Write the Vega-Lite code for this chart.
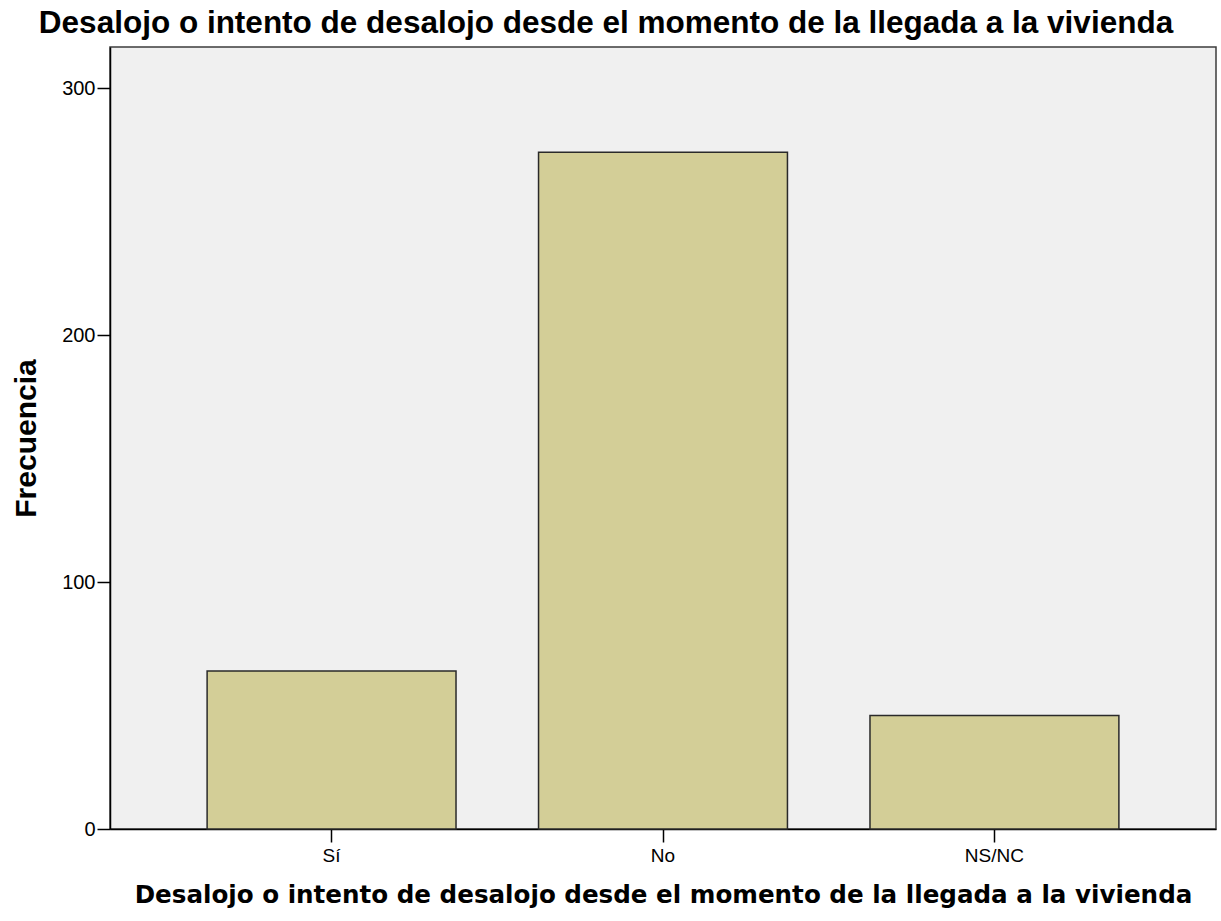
{
  "$schema": "https://vega.github.io/schema/vega-lite/v6.json",
  "width": 1106,
  "height": 782,
  "autosize": {"type": "none"},
  "padding": {"left": 110, "top": 47, "right": 5, "bottom": 92},
  "background": "white",
  "title": {
    "text": "Desalojo o intento de desalojo desde el momento de la llegada a la vivienda",
    "font": "Liberation Sans",
    "fontSize": 31.5,
    "fontWeight": "bold",
    "color": "black",
    "anchor": "middle",
    "dx": -57,
    "offset": 8
  },
  "data": {
    "values": [
      {"respuesta": "Sí", "frecuencia": 64},
      {"respuesta": "No", "frecuencia": 274},
      {"respuesta": "NS/NC", "frecuencia": 46}
    ]
  },
  "mark": {"type": "bar", "fill": "#d3ce97", "stroke": "#2a2a2a", "strokeWidth": 1.5},
  "encoding": {
    "x": {
      "field": "respuesta",
      "type": "nominal",
      "sort": ["Sí", "No", "NS/NC"],
      "scale": {"paddingInner": 0.249, "paddingOuter": 0.293},
      "axis": {
        "title": "Desalojo o intento de desalojo desde el momento de la llegada a la vivienda",
        "titleFont": "DejaVu Sans",
        "titleFontSize": 24.6,
        "titleFontWeight": "bold",
        "titleColor": "black",
        "titlePadding": 18,
        "labelAngle": 0,
        "labelFont": "Liberation Sans",
        "labelFontSize": 19,
        "labelColor": "black",
        "labelPadding": 4,
        "tickSize": 13,
        "tickColor": "black",
        "tickWidth": 1.5,
        "domainColor": "black",
        "domainWidth": 1.5
      }
    },
    "y": {
      "field": "frecuencia",
      "type": "quantitative",
      "scale": {"domain": [0, 316.6], "nice": false},
      "axis": {
        "title": "Frecuencia",
        "titleFont": "Liberation Sans",
        "titleFontSize": 30,
        "titleFontWeight": "bold",
        "titleColor": "black",
        "titlePadding": 20,
        "values": [0, 100, 200, 300],
        "labelFont": "Liberation Sans",
        "labelFontSize": 20,
        "labelColor": "black",
        "labelPadding": 2,
        "tickSize": 13,
        "tickColor": "black",
        "tickWidth": 1.5,
        "domainColor": "black",
        "domainWidth": 1.5,
        "grid": false
      }
    }
  },
  "config": {
    "view": {"fill": "#f0f0f0", "stroke": "#3c3c3c", "strokeWidth": 1.5}
  }
}
